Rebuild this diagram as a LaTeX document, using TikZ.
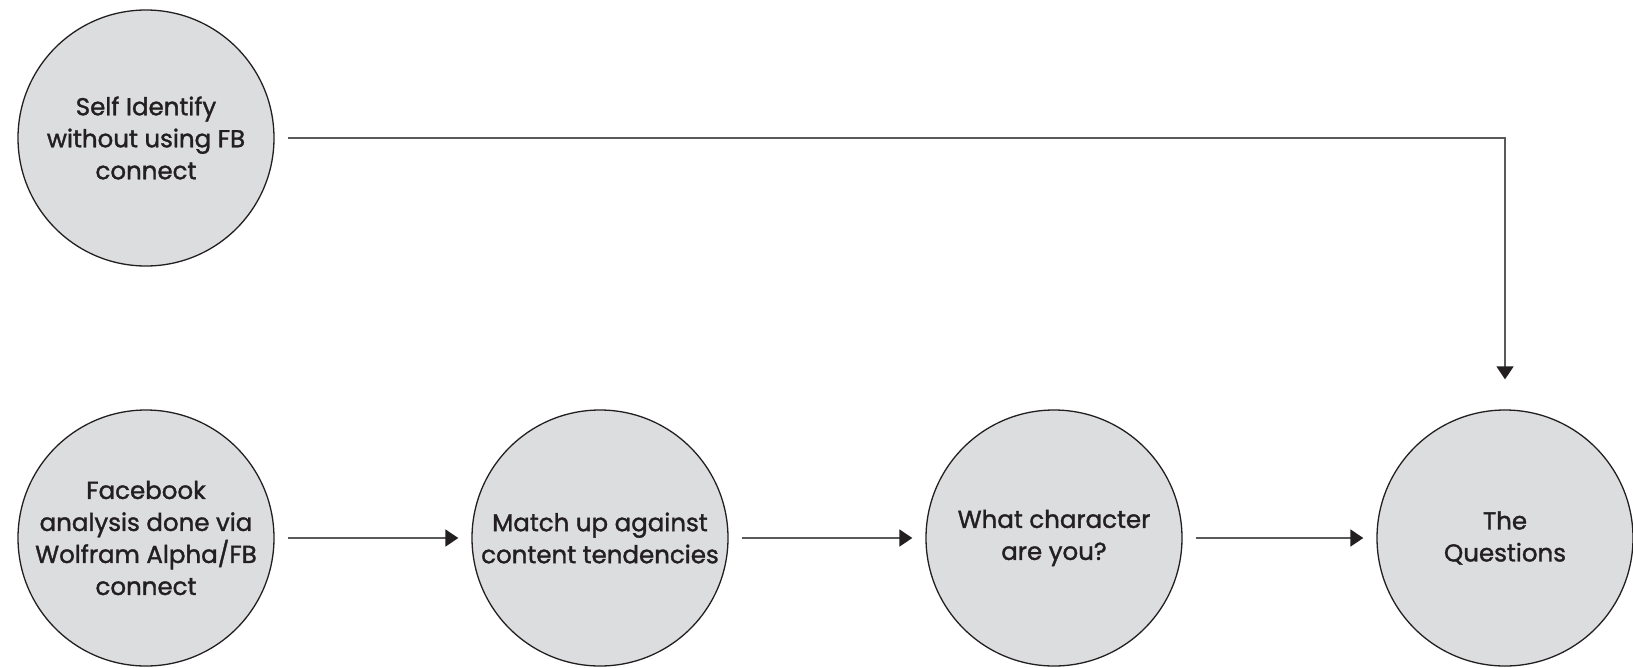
\documentclass[tikz,border=0pt]{standalone}
\usepackage{fontspec}
\setmainfont{Poppins}[UprightFeatures={FakeBold=1.4}]
\usetikzlibrary{arrows.meta}
\definecolor{cfill}{HTML}{DCDDDF}
\definecolor{cdark}{HTML}{231F20}
\definecolor{cline}{HTML}{58595B}
\begin{document}
\begin{tikzpicture}[x=1pt,y=1pt,
  bubble/.style={circle, draw=cdark, line width=1.3pt, fill=cfill, minimum size=256pt, inner sep=0pt,
    align=center, text=cdark, font=\fontsize{24.5}{32}\selectfont},
  conn/.style={draw=cline, line width=1.6pt, -{Triangle[length=13pt,width=17pt,fill=cdark,color=cdark]},
    shorten <=13pt, shorten >=13pt}]
\useasboundingbox (0,0) rectangle (1633,-667);
\node[bubble] (self) at (146,-138) {Self Identify\\without using FB\\connect};
\node[bubble] (fb) at (146,-538) {Facebook\\analysis done via\\Wolfram Alpha/FB\\connect};
\node[bubble] (match) at (600,-538) {Match up against\\content tendencies};
\node[bubble] (what) at (1054,-538) {What character\\are you?};
\node[bubble] (q) at (1505,-538) {The\\Questions};
\draw[conn] (fb) -- (match);
\draw[conn] (match) -- (what);
\draw[conn] (what) -- (q);
\draw[conn, shorten >=30pt] (self) -| (q);
\end{tikzpicture}
\end{document}
